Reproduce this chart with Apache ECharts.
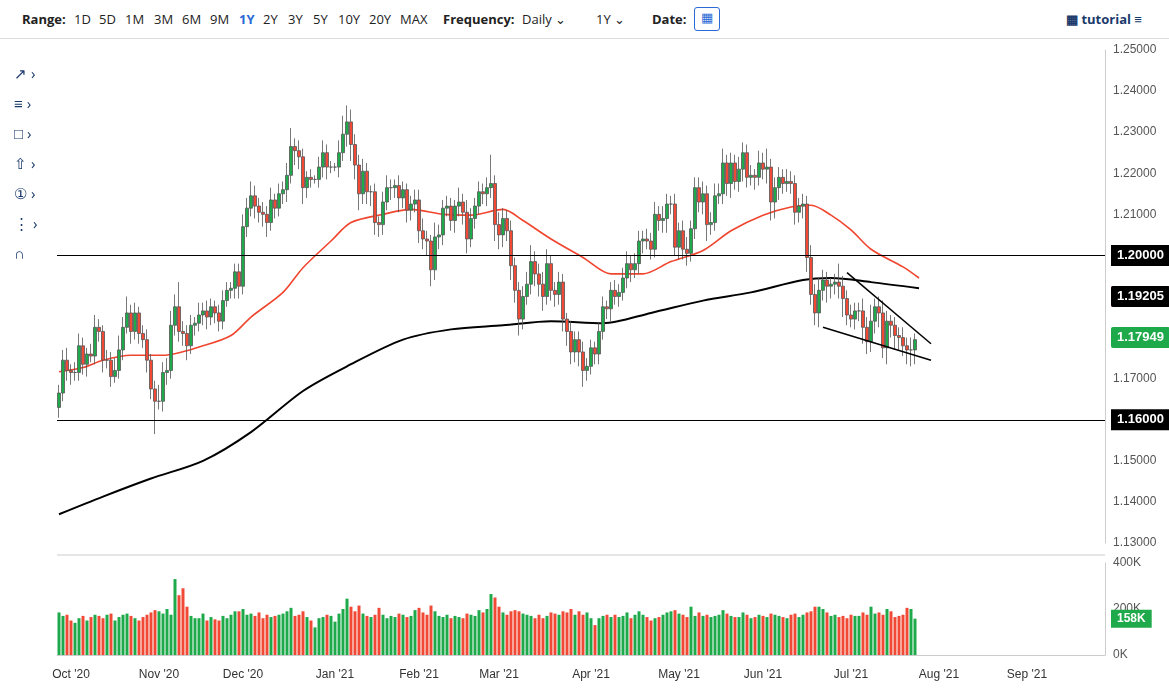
<!DOCTYPE html>
<html><head><meta charset="utf-8">
<script src="https://cdn.jsdelivr.net/npm/echarts@6/dist/echarts.min.js"></script>
<style>
body{margin:0;width:1169px;height:696px;overflow:hidden;background:#fff;font-family:"Open Sans",Roboto,sans-serif;}
#c{position:absolute;left:0;top:0;width:1169px;height:696px;}
#bar{position:absolute;left:0;top:0;width:1169px;height:38px;border-bottom:1px solid #ddd;font-size:13px;color:#222;background:#fff;z-index:2}
#bar span{position:absolute;top:10px}
#tools{position:absolute;left:14px;top:58px;z-index:2;font-size:15px;color:#1a3a6b;line-height:30px}
</style></head><body>
<div id="c"></div>
<div id="bar">
<span style="left:22px;font-weight:bold">Range:</span>
<span style="left:74px">1D</span><span style="left:99px">5D</span><span style="left:125px">1M</span><span style="left:154px">3M</span><span style="left:182px">6M</span><span style="left:210px">9M</span><span style="left:239px;color:#2a6bd6;font-weight:bold">1Y</span><span style="left:263px">2Y</span><span style="left:288px">3Y</span><span style="left:313px">5Y</span><span style="left:338px">10Y</span><span style="left:369px">20Y</span><span style="left:400px">MAX</span>
<span style="left:443px;font-weight:bold">Frequency:</span><span style="left:522px">Daily &#8964;</span>
<span style="left:596px">1Y &#8964;</span>
<span style="left:652px;font-weight:bold">Date:</span>
<span style="left:694px;top:7px;width:24px;height:22px;border:1px solid #2a6bd6;border-radius:3px;text-align:center;color:#2a6bd6">&#9638;</span>
<span style="left:1066px;color:#1a3a6b;font-weight:bold">&#9638; tutorial &#8801;</span>
</div>
<div id="tools">&#8599; &#8250;<br>&#8801; &#8250;<br>&#9633; &#8250;<br>&#8679; &#8250;<br>&#9312; &#8250;<br>&#8942; &#8250;<br>&#8745;</div>
<script>
// daily closes, Sep 28 2020 .. Jul 23 2021 (5 per week)
const closes = [
1.1665,1.1745,1.1720,1.1715,1.1715, 1.1780,1.1735,1.1760,1.1755,1.1825,
1.1815,1.1745,1.1745,1.1705,1.1720, 1.1770,1.1825,1.1860,1.1815,1.1860,
1.1810,1.1795,1.1745,1.1675,1.1645, 1.1645,1.1715,1.1720,1.1830,1.1875,
1.1815,1.1810,1.1780,1.1830,1.1835, 1.1855,1.1865,1.1850,1.1875,1.1860,
1.1840,1.1890,1.1915,1.1920,1.1960, 1.1925,1.2070,1.2115,1.2145,1.2120,
1.2105,1.2100,1.2080,1.2135,1.2115, 1.2150,1.2160,1.2195,1.2265,1.2255,
1.2240,1.2165,1.2190,1.2185,1.2185, 1.2215,1.2250,1.2215,1.2215,1.2215,
1.2250,1.2295,1.2325,1.2270,1.2220, 1.2150,1.2205,1.2155,1.2155,1.2080,
1.2075,1.2130,1.2165,1.2165,1.2170, 1.2140,1.2160,1.2110,1.2125,1.2135,
1.2060,1.2040,1.2035,1.1965,1.2045, 1.2050,1.2115,1.2120,1.2085,1.2120,
1.2130,1.2105,1.2040,1.2090,1.2120, 1.2155,1.2150,1.2165,1.2175,1.2075,
1.2050,1.2090,1.2060,1.1975,1.1915, 1.1845,1.1900,1.1930,1.1985,1.1955,
1.1930,1.1900,1.1980,1.1915,1.1905, 1.1935,1.1845,1.1815,1.1765,1.1795,
1.1765,1.1720,1.1730,1.1775,1.1760, 1.1815,1.1875,1.1870,1.1915,1.1900,
1.1910,1.1945,1.1980,1.1965,1.1980, 1.2035,1.2040,1.2035,1.2015,1.2100,
1.2085,1.2090,1.2125,1.2125,1.2020, 1.2060,1.2015,1.2005,1.2065,1.2165,
1.2130,1.2150,1.2075,1.2080,1.2145, 1.2150,1.2225,1.2175,1.2225,1.2180,
1.2210,1.2250,1.2190,1.2195,1.2190, 1.2225,1.2210,1.2215,1.2130,1.2165,
1.2190,1.2175,1.2180,1.2175,1.2105, 1.2120,1.2125,1.1995,1.1905,1.1860,
1.1915,1.1940,1.1925,1.1930,1.1935, 1.1925,1.1895,1.1855,1.1845,1.1865,
1.1865,1.1825,1.1790,1.1840,1.1875, 1.1860,1.1775,1.1840,1.1830,1.1805,
1.1800,1.1780,1.1770,1.1770,1.1795];
const opens = [
1.1630,1.1665,1.1745,1.1720,1.1715, 1.1715,1.1780,1.1735,1.1760,1.1755,
1.1825,1.1815,1.1745,1.1745,1.1705, 1.1720,1.1770,1.1825,1.1860,1.1815,
1.1860,1.1810,1.1795,1.1745,1.1675, 1.1645,1.1645,1.1715,1.1720,1.1830,
1.1875,1.1815,1.1810,1.1780,1.1830, 1.1835,1.1855,1.1865,1.1850,1.1875,
1.1860,1.1840,1.1890,1.1915,1.1920, 1.1960,1.1925,1.2070,1.2115,1.2145,
1.2120,1.2105,1.2100,1.2080,1.2135, 1.2115,1.2150,1.2160,1.2195,1.2265,
1.2255,1.2240,1.2165,1.2190,1.2185, 1.2185,1.2215,1.2250,1.2215,1.2215,
1.2215,1.2250,1.2295,1.2325,1.2270, 1.2220,1.2150,1.2205,1.2155,1.2155,
1.2080,1.2075,1.2130,1.2165,1.2165, 1.2170,1.2140,1.2160,1.2110,1.2125,
1.2135,1.2060,1.2040,1.2035,1.1965, 1.2045,1.2050,1.2115,1.2120,1.2085,
1.2120,1.2130,1.2105,1.2040,1.2090, 1.2120,1.2155,1.2150,1.2165,1.2175,
1.2075,1.2050,1.2090,1.2060,1.1975, 1.1915,1.1845,1.1900,1.1930,1.1985,
1.1955,1.1930,1.1900,1.1980,1.1915, 1.1905,1.1935,1.1845,1.1815,1.1765,
1.1795,1.1765,1.1720,1.1730,1.1775, 1.1760,1.1815,1.1875,1.1870,1.1915,
1.1900,1.1910,1.1945,1.1980,1.1965, 1.1980,1.2035,1.2040,1.2035,1.2015,
1.2100,1.2085,1.2090,1.2125,1.2125, 1.2020,1.2060,1.2015,1.2005,1.2065,
1.2165,1.2130,1.2150,1.2075,1.2080, 1.2145,1.2150,1.2225,1.2175,1.2225,
1.2180,1.2210,1.2250,1.2190,1.2195, 1.2190,1.2225,1.2210,1.2215,1.2130,
1.2165,1.2190,1.2175,1.2180,1.2175, 1.2105,1.2120,1.2125,1.1995,1.1905,
1.1860,1.1915,1.1940,1.1925,1.1930, 1.1935,1.1925,1.1895,1.1855,1.1845,
1.1865,1.1865,1.1825,1.1790,1.1840, 1.1875,1.1860,1.1775,1.1840,1.1830,
1.1805,1.1800,1.1780,1.1770,1.1770];
// wick sizes in pips above max(o,c) and below min(o,c)
const wickUp = [
20,25,30,15,25, 30,20,15,25,30, 20,15,25,20,30, 35,25,40,20,25,
15,20,25,15,20, 40,25,30,35,30, 60,25,20,25,15, 30,20,25,20,15,
20,25,20,15,20, 20,30,25,35,25, 20,25,20,30,15, 25,20,30,45,20,
25,20,15,20,10, 25,30,20,15,10, 30,45,40,30,25, 25,30,20,15,20,
15,25,30,20,15, 25,20,15,20,25, 25,30,20,15,35, 25,20,25,20,15,
35,20,30,25,20, 25,20,25,70,20, 30,25,20,25,20, 20,25,30,40,25,
25,30,35,20,20, 25,20,15,25,20, 20,25,20,20,15, 20,25,15,20,25,
20,25,30,20,25, 25,20,25,20,30, 20,30,25,20,25, 20,25,30,20,25,
25,30,20,25,30, 25,35,20,25,20, 30,25,20,25,15, 30,25,45,20,25,
25,20,30,25,20, 20,25,20,30,25, 30,25,20,15,20, 45,25,20,25,20,
20,30,25,40,20, 25,30,25,15,20, 20,25,20,30,15];
const wickDn = [
25,20,25,30,20, 20,25,30,15,20, 25,30,20,25,15, 20,25,15,30,20,
25,20,30,25,80, 20,25,30,20,25, 25,30,35,20,25, 20,25,30,20,25,
25,20,15,20,25, 30,20,25,20,30, 25,30,35,20,25, 20,25,30,20,35,
30,40,25,20,10, 20,25,30,15,10, 25,20,30,40,35, 40,25,30,35,30,
30,25,20,30,25, 35,25,30,25,20, 30,25,35,40,25, 30,25,20,25,30,
25,30,35,20,25, 20,25,30,25,40, 35,30,25,35,30, 40,25,20,25,30,
30,35,20,25,30, 25,30,35,30,25, 35,40,25,20,25, 25,20,25,30,20,
25,20,25,30,20, 25,30,20,25,20, 25,30,35,25,20, 30,25,30,20,25,
25,30,40,25,20, 20,25,30,35,20, 25,30,25,20,30, 20,25,35,45,40,
30,25,20,25,30, 25,30,35,25,30, 35,25,40,30,25, 30,45,25,20,25,
25,40,30,25,30, 35,25,40,30,35, 30,25,35,40,35];
// volume in thousands
const volume = [
185,170,175,150,140, 160,170,150,165,175, 170,160,175,180,150, 165,175,180,170,160,
150,165,175,185,195, 190,180,200,175,330, 260,290,210,170,160, 160,180,150,165,155,
150,170,160,175,190, 190,200,175,180,170, 185,160,175,165,170, 175,180,190,205,170,
175,190,165,150,120, 160,165,175,170,145, 180,200,245,210,190, 215,180,170,165,175,
205,175,160,170,165, 180,175,165,170,195, 205,185,175,215,190, 170,165,175,160,170,
165,160,180,175,170, 195,185,200,265,250, 210,185,175,190,195, 190,180,175,170,160,
175,160,170,185,180, 175,190,185,200,175, 190,175,185,160,130, 160,170,175,165,175,
165,170,185,160,175, 190,175,165,150,160, 165,175,185,190,195, 180,175,165,210,170,
185,170,175,165,170, 175,195,180,170,165, 165,185,175,160,165, 175,170,165,180,175,
170,165,160,175,180, 165,175,185,190,210, 210,200,185,170,175, 165,170,160,175,170,
170,185,175,210,180, 185,175,200,190,165, 170,175,205,200,158];
// moving averages sampled at [day index, value]
const ma50 = [[0,1.1717],[6,1.1727],[11,1.1745],[18,1.1757],[26,1.1757],[36,1.1780],[43,1.1805],[48,1.1850],[56,1.1910],[61,1.1970],[68,1.2035],[73,1.2080],[81,1.2100],[88,1.2112],[96,1.2100],[103,1.2098],[111,1.2112],[116,1.2085],[123,1.2040],[131,1.1995],[138,1.1955],[146,1.1955],[153,1.1985],[161,1.2012],[168,1.2060],[176,1.2098],[183,1.2118],[188,1.2122],[193,1.2098],[198,1.2062],[203,1.2015],[211,1.1972],[215,1.1945]];
const ma200 = [[0,1.1370],[11,1.1413],[23,1.1457],[36,1.1500],[48,1.1570],[61,1.1670],[72,1.1730],[86,1.1795],[98,1.1820],[111,1.1830],[123,1.1840],[136,1.1835],[148,1.1860],[161,1.1890],[173,1.1910],[186,1.1940],[193,1.1945],[203,1.1935],[215,1.1920]];

// trading-day categories
const cats=[]; const monthStart={};
let d=new Date(Date.UTC(2020,8,28));
const mn=['Jan','Feb','Mar','Apr','May','Jun','Jul','Aug','Sep','Oct','Nov','Dec'];
let lastM=8;
while(cats.length<262){
  const wd=d.getUTCDay();
  if(wd!==0&&wd!==6){
    const m=d.getUTCMonth();
    if(m!==lastM){monthStart[cats.length]=mn[m]+" '"+String(d.getUTCFullYear()).slice(2);lastM=m;}
    cats.push(d.toISOString().slice(0,10));
  }
  d=new Date(d.getTime()+86400000);
}
const ohlc=closes.map((c,i)=>{const o=opens[i];return [o,c,Math.min(o,c)-wickDn[i]/10000,Math.max(o,c)+wickUp[i]/10000];});
const GREEN='#1ea94a',RED='#f04a36';
const volData=volume.map((v,i)=>({value:v*1000,itemStyle:{color:closes[i]>=opens[i]?GREEN:RED}}));
function tag(v,color,text){return {yAxis:v,lineStyle:{color:'rgba(0,0,0,0)'},label:{show:true,position:'end',formatter:text,backgroundColor:color,color:'#fff',fontWeight:'bold',fontSize:13,padding:[4,6],borderRadius:2,distance:6}};}
const ch=echarts.init(document.getElementById('c'));
ch.setOption({
  animation:false,
  grid:[{left:57,right:64,top:50,bottom:153},{left:57,right:64,top:563,height:92}],
  xAxis:[
    {type:'category',data:cats,gridIndex:0,boundaryGap:true,axisLine:{show:false},axisTick:{show:false},axisLabel:{show:false},splitLine:{show:false}},
    {type:'category',data:cats,gridIndex:1,boundaryGap:true,axisLine:{lineStyle:{color:'#ccc'}},axisTick:{show:false},
     axisLabel:{interval:(i)=>monthStart[i]!==undefined,formatter:(v,i)=>monthStart[i]||'',color:'#333',fontSize:12,margin:14},splitLine:{show:false}}
  ],
  yAxis:[
    {type:'value',gridIndex:0,position:'right',min:1.13,max:1.25,interval:0.01,axisLine:{show:true,lineStyle:{color:'#ccc'}},axisTick:{show:false},splitLine:{show:false},axisLabel:{color:'#555',fontSize:12,margin:8,formatter:v=>v.toFixed(5)}},
    {type:'value',gridIndex:1,position:'right',min:0,max:400000,interval:200000,axisLine:{show:true,lineStyle:{color:'#ccc'}},axisTick:{show:false},splitLine:{show:false},axisLabel:{color:'#555',fontSize:12,margin:8,formatter:v=>(v/1000)+'K'}}
  ],
  graphic:[{type:'line',shape:{x1:57,y1:555,x2:1105,y2:555},style:{stroke:'#ccc'}}],
  series:[
    {type:'line',data:ma50,xAxisIndex:0,yAxisIndex:0,showSymbol:false,smooth:0.3,lineStyle:{color:'#f0452e',width:1.6},z:1,
     markLine:{symbol:'none',silent:true,labelLayout:{hideOverlap:false},data:[tag(1.19412,RED,'1.19412')]}},
    {type:'line',data:ma200,xAxisIndex:0,yAxisIndex:0,showSymbol:false,smooth:0.3,lineStyle:{color:'#000',width:2},z:1},
    {type:'candlestick',data:ohlc,xAxisIndex:0,yAxisIndex:0,barWidth:3,z:2,
     itemStyle:{color:GREEN,color0:RED,borderColor:'#555',borderColor0:'#555',borderWidth:0.8},
     markLine:{symbol:'none',silent:true,animation:false,
      data:[
        {yAxis:1.20,lineStyle:{color:'#000',width:1,type:'solid'},label:{show:true,position:'end',formatter:'1.20000',backgroundColor:'#000',color:'#fff',fontWeight:'bold',fontSize:13,padding:[4,6],distance:6}},
        {yAxis:1.16,lineStyle:{color:'#000',width:1,type:'solid'},label:{show:true,position:'end',formatter:'1.16000',backgroundColor:'#000',color:'#fff',fontWeight:'bold',fontSize:13,padding:[4,6],distance:6}},
        tag(1.19205,'#000','1.19205'),
        tag(1.17949,GREEN,'1.17949'),
        [{coord:[197,1.1958],lineStyle:{color:'#000',width:1.5,type:'solid'},label:{show:false}},{coord:[218,1.1785]}],
        [{coord:[191,1.1825],lineStyle:{color:'#000',width:1.5,type:'solid'},label:{show:false}},{coord:[218,1.1745]}]
      ]}},
    {type:'bar',data:volData,xAxisIndex:1,yAxisIndex:1,barWidth:3,
     markLine:{symbol:'none',silent:true,data:[{yAxis:158000,lineStyle:{color:'rgba(0,0,0,0)'},label:{show:true,position:'end',formatter:'158K',backgroundColor:GREEN,color:'#fff',fontWeight:'bold',fontSize:12,padding:[3,6],distance:6}}]}}
  ]
});
</script>
</body></html>
